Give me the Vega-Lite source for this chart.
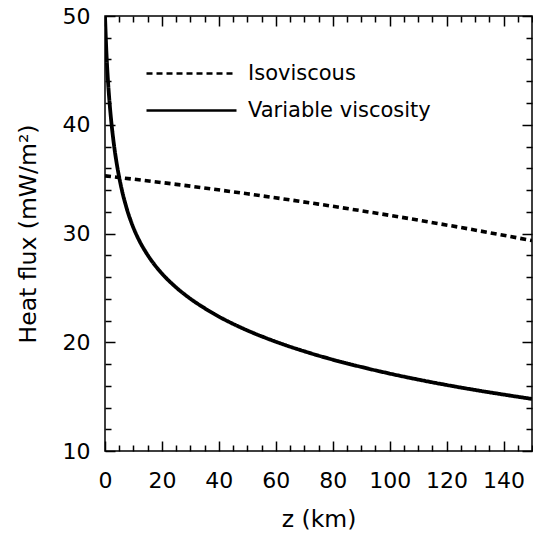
{
  "$schema": "https://vega.github.io/schema/vega-lite/v6.json",
  "autosize": {"type": "none"},
  "width": 427,
  "height": 435,
  "padding": {"left": 105, "top": 16, "right": 1, "bottom": 85},
  "background": "white",
  "config": {
    "font": "DejaVu Sans",
    "view": {"stroke": "black", "strokeWidth": 1.5},
    "axis": {
      "labelFont": "DejaVu Sans",
      "titleFont": "DejaVu Sans",
      "labelColor": "black",
      "titleColor": "black",
      "titleFontWeight": "normal",
      "labelFontSize": 22,
      "titleFontSize": 23.5,
      "tickColor": "black",
      "tickWidth": 1.5,
      "domain": false,
      "grid": false,
      "labelFlush": false,
      "labelOverlap": false
    },
    "legend": {
      "labelFont": "DejaVu Sans",
      "labelFontSize": 21,
      "labelColor": "black",
      "labelLimit": 400
    }
  },
  "data": {
    "values": [
      {"z": 0, "q": 35.3, "series": "Isoviscous"},
      {"z": 25, "q": 34.52, "series": "Isoviscous"},
      {"z": 50, "q": 33.65, "series": "Isoviscous"},
      {"z": 75, "q": 32.7, "series": "Isoviscous"},
      {"z": 100, "q": 31.67, "series": "Isoviscous"},
      {"z": 125, "q": 30.55, "series": "Isoviscous"},
      {"z": 150, "q": 29.35, "series": "Isoviscous"},
      {"z": 0, "q": 50.0, "series": "Variable viscosity"},
      {"z": 0.5, "q": 46.62, "series": "Variable viscosity"},
      {"z": 1, "q": 44.23, "series": "Variable viscosity"},
      {"z": 1.5, "q": 42.37, "series": "Variable viscosity"},
      {"z": 2, "q": 40.85, "series": "Variable viscosity"},
      {"z": 3, "q": 38.46, "series": "Variable viscosity"},
      {"z": 4, "q": 36.62, "series": "Variable viscosity"},
      {"z": 5, "q": 35.15, "series": "Variable viscosity"},
      {"z": 6, "q": 33.91, "series": "Variable viscosity"},
      {"z": 7, "q": 32.88, "series": "Variable viscosity"},
      {"z": 8, "q": 31.98, "series": "Variable viscosity"},
      {"z": 9, "q": 31.21, "series": "Variable viscosity"},
      {"z": 10, "q": 30.52, "series": "Variable viscosity"},
      {"z": 12, "q": 29.37, "series": "Variable viscosity"},
      {"z": 14, "q": 28.43, "series": "Variable viscosity"},
      {"z": 16, "q": 27.63, "series": "Variable viscosity"},
      {"z": 20, "q": 26.32, "series": "Variable viscosity"},
      {"z": 25, "q": 25.04, "series": "Variable viscosity"},
      {"z": 30, "q": 24.0, "series": "Variable viscosity"},
      {"z": 35, "q": 23.13, "series": "Variable viscosity"},
      {"z": 40, "q": 22.36, "series": "Variable viscosity"},
      {"z": 45, "q": 21.69, "series": "Variable viscosity"},
      {"z": 50, "q": 21.09, "series": "Variable viscosity"},
      {"z": 60, "q": 20.05, "series": "Variable viscosity"},
      {"z": 70, "q": 19.17, "series": "Variable viscosity"},
      {"z": 80, "q": 18.4, "series": "Variable viscosity"},
      {"z": 90, "q": 17.73, "series": "Variable viscosity"},
      {"z": 100, "q": 17.12, "series": "Variable viscosity"},
      {"z": 110, "q": 16.57, "series": "Variable viscosity"},
      {"z": 120, "q": 16.07, "series": "Variable viscosity"},
      {"z": 130, "q": 15.61, "series": "Variable viscosity"},
      {"z": 140, "q": 15.19, "series": "Variable viscosity"},
      {"z": 150, "q": 14.79, "series": "Variable viscosity"}
    ]
  },
  "layer": [
    {
      "transform": [{"filter": "datum.series === 'Isoviscous'"}],
      "mark": {"type": "line", "color": "black", "strokeWidth": 3.6, "clip": true, "interpolate": "monotone"},
      "encoding": {
        "x": {
          "field": "z", "type": "quantitative",
          "scale": {"domain": [0, 150], "nice": false, "zero": false},
          "axis": {
            "orient": "bottom",
            "values": [0,5,10,15,20,25,30,35,40,45,50,55,60,65,70,75,80,85,90,95,100,105,110,115,120,125,130,135,140,145,150],
            "labelExpr": "datum.value % 20 === 0 ? datum.label : ''",
            "tickSize": {"condition": {"test": "datum.value % 20 === 0", "value": -10}, "value": -6},
            "labelPadding": 29,
            "title": "z (km)",
            "titlePadding": 12
          }
        },
        "y": {
          "field": "q", "type": "quantitative",
          "scale": {"domain": [10, 50], "nice": false, "zero": false},
          "axis": {
            "orient": "left",
            "values": [10,12,14,16,18,20,22,24,26,28,30,32,34,36,38,40,42,44,46,48,50],
            "labelExpr": "datum.value % 10 === 0 ? datum.label : ''",
            "tickSize": {"condition": {"test": "datum.value % 10 === 0", "value": -10}, "value": -6},
            "labelPadding": 25,
            "title": "Heat flux (mW/m²)",
            "titlePadding": 22
          }
        },
        "strokeDash": {
          "field": "series", "type": "nominal",
          "scale": {"domain": ["Isoviscous", "Variable viscosity"], "range": [[6, 4], [1, 0]]},
          "legend": {
            "orient": "none",
            "legendX": 70,
            "legendY": 41,
            "title": null,
            "padding": 0,
            "symbolType": "M-3,0H3",
            "symbolSize": 900,
            "symbolStrokeWidth": 2.5,
            "symbolStrokeColor": "black",
            "symbolFillColor": "transparent",
            "labelOffset": 40,
            "rowPadding": 10
          }
        }
      }
    },
    {
      "transform": [{"filter": "datum.series === 'Variable viscosity'"}],
      "mark": {"type": "line", "color": "black", "strokeWidth": 3.8, "clip": true, "interpolate": "monotone"},
      "encoding": {
        "x": {
          "field": "z", "type": "quantitative",
          "axis": {
            "orient": "top",
            "values": [0,5,10,15,20,25,30,35,40,45,50,55,60,65,70,75,80,85,90,95,100,105,110,115,120,125,130,135,140,145,150],
            "labels": false,
            "tickSize": {"condition": {"test": "datum.value % 20 === 0", "value": -10}, "value": -6},
            "title": null
          }
        },
        "y": {
          "field": "q", "type": "quantitative",
          "axis": {
            "orient": "right",
            "values": [10,12,14,16,18,20,22,24,26,28,30,32,34,36,38,40,42,44,46,48,50],
            "labels": false,
            "tickSize": {"condition": {"test": "datum.value % 10 === 0", "value": -10}, "value": -6},
            "title": null
          }
        },
        "strokeDash": {"field": "series", "type": "nominal"}
      }
    }
  ],
  "resolve": {"axis": {"x": "independent", "y": "independent"}}
}
